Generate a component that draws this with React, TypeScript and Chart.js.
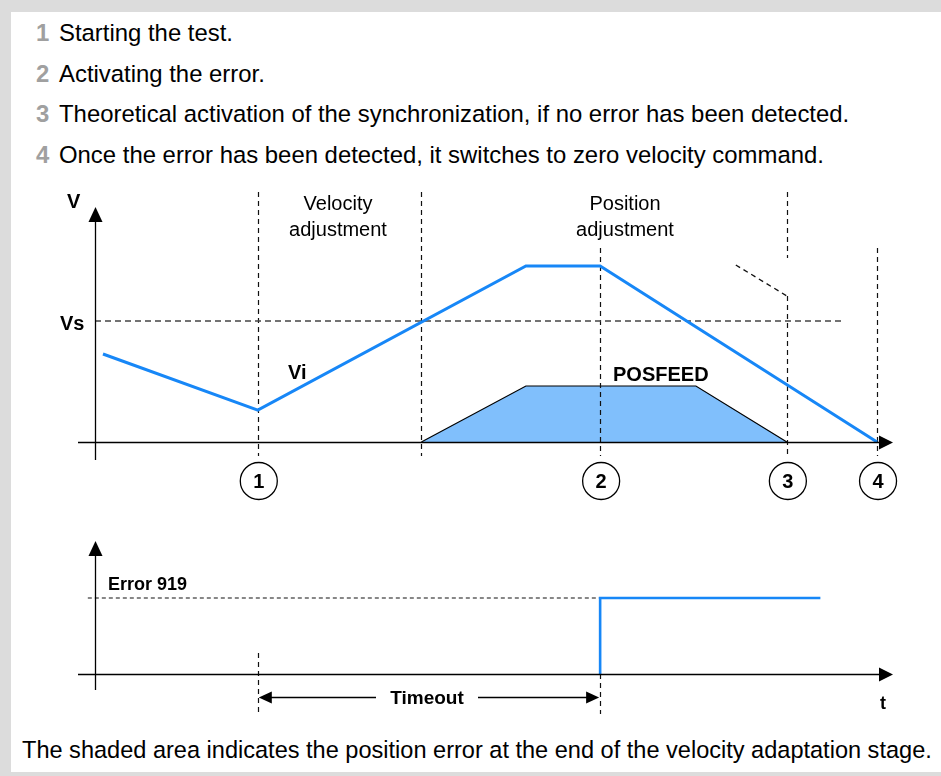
import React, { useEffect, useRef } from "react";
import { Chart, registerables } from "chart.js";

Chart.register(...registerables);

// Time axis in percent of the plotted span (0 = origin, 100 = arrow tip)
const velocityTimes = [1.0, 20.4, 54.0, 63.3, 98.0];
const velocityValues = [72.7, 26.4, 145.5, 145.5, 0];
const posfeedTimes = [40.9, 54.0, 75.3, 86.7];
const posfeedValues = [0, 46.3, 46.3, 0];
const syncSpeed = 100; // Vs
const syncLineEnd = 93.7;
const theoreticalTimes = [80.3, 86.7];
const theoreticalValues = [146.3, 120.7];
const errorTimes = [63.3, 63.3, 90.9];
const errorValues = [0, 1, 1];
const errorLevelTimes = [-0.9, 63.3];
const errorLevelValues = [1, 1];
const phaseBoundary = 40.9;
const eventTimes = [20.4, 63.3, 86.7, 98.0];
const eventLabels = ["1", "2", "3", "4"];
const notes = [
  "Starting the test.",
  "Activating the error.",
  "Theoretical activation of the synchronization, if no error has been detected.",
  "Once the error has been detected, it switches to zero velocity command.",
];
const caption =
  "The shaded area indicates the position error at the end of the velocity adaptation stage.";

// Layout of the drawing area (pixels)
const W = 941;
const H = 776;
const AREA_LEFT = 95;
const AREA_RIGHT = 893;
const AREA_TOP = 190;
const AREA_BOTTOM = 710;
const V_ZERO_PX = 442;
const VS_PX = 321;
const E_ZERO_PX = 674;
const E_ONE_PX = 598;

const vPerUnit = (V_ZERO_PX - VS_PX) / syncSpeed;
const ePerUnit = E_ZERO_PX - E_ONE_PX;

const BLUE = "#1787f7";
const FILL = "#80bffc";
const SANS = '"Liberation Sans", Arial, Helvetica, sans-serif';

const pts = (xs: number[], ys: number[]) => xs.map((x, i) => ({ x, y: ys[i] }));

function arrow(ctx: CanvasRenderingContext2D, tx: number, ty: number, dir: string, len: number, half: number) {
  ctx.beginPath();
  ctx.moveTo(tx, ty);
  if (dir === "up") {
    ctx.lineTo(tx - half, ty + len);
    ctx.lineTo(tx + half, ty + len);
  } else if (dir === "right") {
    ctx.lineTo(tx - len, ty - half);
    ctx.lineTo(tx - len, ty + half);
  } else {
    ctx.lineTo(tx + len, ty - half);
    ctx.lineTo(tx + len, ty + half);
  }
  ctx.closePath();
  ctx.fill();
}

function dashedV(ctx: CanvasRenderingContext2D, x: number, y1: number, y2: number) {
  ctx.save();
  ctx.setLineDash([5, 4]);
  ctx.lineWidth = 1.2;
  ctx.strokeStyle = "#111";
  ctx.beginPath();
  ctx.moveTo(x, y1);
  ctx.lineTo(x, y2);
  ctx.stroke();
  ctx.restore();
}

const diagramPlugin = {
  id: "diagram",
  afterDatasetDraw(chart: any, args: any) {
    // guides sit above the POSFEED fill but below the blue signals
    if (args.index !== 0) return;
    const ctx = chart.ctx as CanvasRenderingContext2D;
    const xs = chart.scales.x;
    const px = (t: number) => Math.round(xs.getPixelForValue(t)) + 0.5;
    const [e1, e2, e3, e4] = eventTimes.map(px);
    const pb = px(phaseBoundary);
    dashedV(ctx, e1, 192, 456);
    dashedV(ctx, pb, 192, 456);
    dashedV(ctx, e2, 248, 456);
    dashedV(ctx, e3, 192, 258);
    dashedV(ctx, e3, 296, 456);
    dashedV(ctx, e4, 248, 456);
    dashedV(ctx, e1, 653, 714);
    dashedV(ctx, e2, 674, 714);
  },
  afterDatasetsDraw(chart: any) {
    const ctx = chart.ctx as CanvasRenderingContext2D;
    const xs = chart.scales.x;
    const yV = chart.scales.yV;
    const yE = chart.scales.yE;
    const px = (t: number) => xs.getPixelForValue(t);
    const ox = Math.round(px(0)) + 0.5;
    const vy0 = Math.round(yV.getPixelForValue(0)) + 0.5;
    const ey0 = Math.round(yE.getPixelForValue(0)) + 0.5;
    const tip = px(100);

    ctx.save();
    ctx.strokeStyle = "#000";
    ctx.fillStyle = "#000";
    ctx.lineWidth = 1.3;
    // velocity axes
    ctx.beginPath();
    ctx.moveTo(78, vy0);
    ctx.lineTo(tip - 12, vy0);
    ctx.moveTo(ox, 460);
    ctx.lineTo(ox, 220);
    // error axes
    ctx.moveTo(78, ey0);
    ctx.lineTo(tip - 12, ey0);
    ctx.moveTo(ox, 690);
    ctx.lineTo(ox, 554);
    ctx.stroke();
    arrow(ctx, tip, vy0, "right", 14, 7);
    arrow(ctx, ox, 207, "up", 15, 7);
    arrow(ctx, tip, ey0, "right", 14, 7);
    arrow(ctx, ox, 541, "up", 15, 7);

    // event markers
    ctx.lineWidth = 1.3;
    ctx.textAlign = "center";
    ctx.textBaseline = "middle";
    eventTimes.forEach((t, i) => {
      const cx = px(t) + 1;
      ctx.beginPath();
      ctx.arc(cx, 481, 18.5, 0, Math.PI * 2);
      ctx.stroke();
      ctx.font = `bold 20px ${SANS}`;
      ctx.fillText(eventLabels[i], cx, 482);
    });

    // labels
    ctx.textBaseline = "alphabetic";
    ctx.font = `20px ${SANS}`;
    ctx.fillText("Velocity", 338, 210);
    ctx.fillText("adjustment", 338, 236);
    ctx.fillText("Position", 625, 210);
    ctx.fillText("adjustment", 625, 236);
    ctx.font = `bold 20px ${SANS}`;
    ctx.textAlign = "left";
    ctx.fillText("V", 67, 208);
    ctx.fillText("Vs", 60, yV.getPixelForValue(syncSpeed) + 9);
    ctx.fillText("Vi", 288, 379);
    ctx.fillText("POSFEED", 613, 381);
    ctx.font = `bold 18px ${SANS}`;
    ctx.fillText("Error 919", 108, 590);
    ctx.fillText("t", 880, 709);

    // timeout dimension
    const a = px(eventTimes[0]) + 1;
    const b = px(eventTimes[1]) - 1;
    const ty = 697.5;
    ctx.lineWidth = 1.3;
    ctx.beginPath();
    ctx.moveTo(a + 12, ty);
    ctx.lineTo(376, ty);
    ctx.moveTo(478, ty);
    ctx.lineTo(b - 12, ty);
    ctx.stroke();
    arrow(ctx, a, ty, "left", 13, 6);
    arrow(ctx, b, ty, "right", 13, 6);
    ctx.textAlign = "center";
    ctx.font = `bold 19px ${SANS}`;
    ctx.fillText("Timeout", 427, 704);
    ctx.restore();
  },
};

export default function App() {
  const ref = useRef<HTMLCanvasElement>(null);

  useEffect(() => {
    const canvas = ref.current;
    if (!canvas) return;
    const chart = new Chart(canvas, {
      type: "line",
      data: {
        datasets: [
          {
            label: "POSFEED",
            data: pts(posfeedTimes, posfeedValues),
            yAxisID: "yV",
            borderColor: "#000",
            borderWidth: 1.2,
            backgroundColor: FILL,
            fill: "origin",
            order: 5,
          },
          {
            label: "Vs",
            data: pts([0, syncLineEnd], [syncSpeed, syncSpeed]),
            yAxisID: "yV",
            borderColor: "#444",
            borderWidth: 1.3,
            borderDash: [6, 4],
            fill: false,
            order: 4,
          },
          {
            label: "Theoretical",
            data: pts(theoreticalTimes, theoreticalValues),
            yAxisID: "yV",
            borderColor: "#111",
            borderWidth: 1.3,
            borderDash: [5, 4],
            fill: false,
            order: 4,
          },
          {
            label: "Error level",
            data: pts(errorLevelTimes, errorLevelValues),
            yAxisID: "yE",
            borderColor: "#111",
            borderWidth: 1.2,
            borderDash: [4, 3],
            fill: false,
            order: 4,
          },
          {
            label: "Velocity",
            data: pts(velocityTimes, velocityValues),
            yAxisID: "yV",
            borderColor: BLUE,
            borderWidth: 3,
            fill: false,
            order: 1,
          },
          {
            label: "Error 919",
            data: pts(errorTimes, errorValues),
            yAxisID: "yE",
            borderColor: BLUE,
            borderWidth: 2.6,
            fill: false,
            order: 1,
          },
        ],
      },
      options: {
        animation: false,
        responsive: false,
        maintainAspectRatio: false,
        devicePixelRatio: 1,
        layout: {
          padding: {
            left: AREA_LEFT,
            right: W - AREA_RIGHT,
            top: AREA_TOP,
            bottom: H - AREA_BOTTOM,
          },
        },
        elements: {
          point: { radius: 0, hoverRadius: 0 },
          line: { tension: 0, capBezierPoints: false },
        },
        datasets: { line: { clip: false as any } },
        plugins: {
          legend: { display: false },
          tooltip: { enabled: false },
        },
        scales: {
          x: { type: "linear", min: 0, max: 100, display: false },
          yV: {
            type: "linear",
            display: false,
            min: -(AREA_BOTTOM - V_ZERO_PX) / vPerUnit,
            max: (V_ZERO_PX - AREA_TOP) / vPerUnit,
          },
          yE: {
            type: "linear",
            display: false,
            min: -(AREA_BOTTOM - E_ZERO_PX) / ePerUnit,
            max: (E_ZERO_PX - AREA_TOP) / ePerUnit,
          },
        },
      },
      plugins: [diagramPlugin],
    });
    return () => chart.destroy();
  }, []);

  const textStyle: React.CSSProperties = {
    position: "absolute",
    font: `23.9px ${SANS}`,
    lineHeight: "24px",
    whiteSpace: "nowrap",
    color: "#000",
  };

  return (
    <div
      style={{
        position: "fixed",
        left: 0,
        top: 0,
        width: W,
        height: H,
        background: "#dcdcdc",
        overflow: "hidden",
      }}
    >
      <div style={{ position: "absolute", left: 11, top: 12, width: W - 11, height: 760, background: "#fff" }} />
      {notes.map((n, i) => (
        <React.Fragment key={i}>
          <div style={{ ...textStyle, left: 36, top: 21 + i * 40.5, color: "#a0a0a0", fontWeight: "bold" }}>
            {i + 1}
          </div>
          <div style={{ ...textStyle, left: 59, top: 21 + i * 40.5 }}>{n}</div>
        </React.Fragment>
      ))}
      <div style={{ ...textStyle, fontSize: "23.55px", left: 22, top: 738 }}>{caption}</div>
      <canvas
        ref={ref}
        width={W}
        height={H}
        style={{ position: "absolute", left: 0, top: 0, width: W, height: H }}
      />
    </div>
  );
}
